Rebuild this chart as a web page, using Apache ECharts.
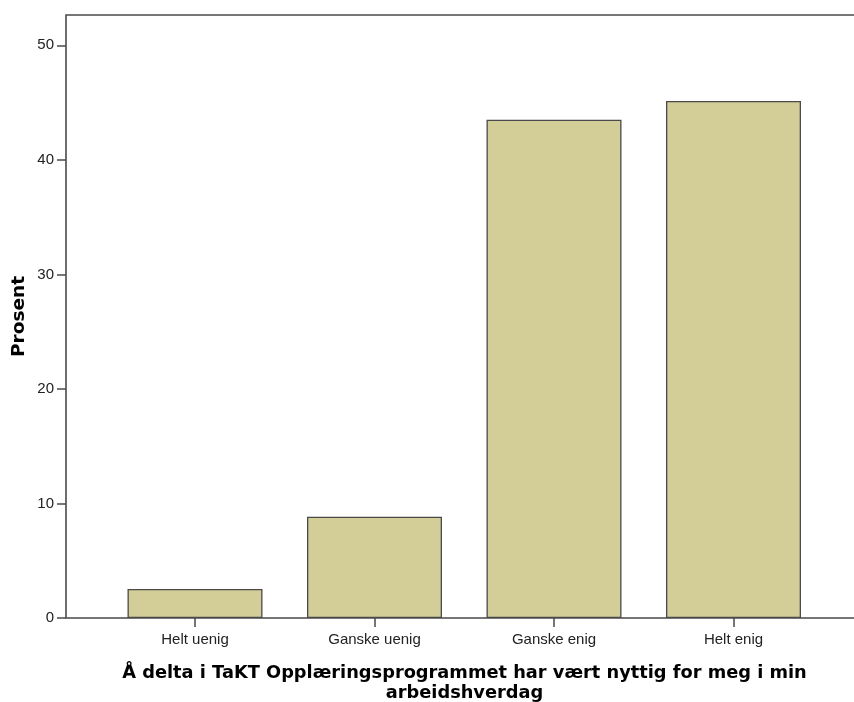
<!DOCTYPE html>
<html>
<head>
<meta charset="utf-8">
<script src="https://cdn.jsdelivr.net/npm/echarts@6/dist/echarts.min.js"></script>
<style>html,body{margin:0;padding:0;background:#fff}#c{width:854px;height:702px}</style>
</head>
<body>
<div id="c"></div>
<script>
const categories = ['Helt uenig', 'Ganske uenig', 'Ganske enig', 'Helt enig'];
const values = [2.54, 8.85, 43.5, 45.15];
const xTitle = 'Å delta i TaKT Opplæringsprogrammet har vært nyttig for meg i min\narbeidshverdag';
const yTitle = 'Prosent';

const chart = echarts.init(document.getElementById('c'));
// frame covers 0..52.65; tick/bar grids cover 0..50
const frameTop = 15, frameBottom = 84, frameH = 702 - frameTop - frameBottom;
const frameMax = 52.65, axisMax = 50;
const innerTop = frameTop + frameH * (frameMax - axisMax) / frameMax;
chart.setOption({
  animation: false,
  backgroundColor: '#fff',
  grid: [
    {left: 66, top: frameTop, width: 797, bottom: frameBottom, show: true, borderColor: '#4a4a4a', borderWidth: 1.6, backgroundColor: 'transparent', outerBoundsMode: 'none', containLabel: false},
    {left: 105.25, top: innerTop, width: 718, bottom: frameBottom, outerBoundsMode: 'none', containLabel: false},
    {left: 66, top: innerTop, width: 797, bottom: frameBottom, outerBoundsMode: 'none', containLabel: false}
  ],
  xAxis: [
    {gridIndex: 0, type: 'value', min: 0, max: 1, axisLine: {show: false}, axisTick: {show: false}, axisLabel: {show: false}, splitLine: {show: false},
     name: xTitle, nameLocation: 'middle', nameGap: 45,
     nameTextStyle: {fontFamily: 'DejaVu Sans', fontWeight: 'bold', fontSize: 17.8, color: '#000', lineHeight: 20, align: 'center'}},
    {gridIndex: 1, type: 'category', data: categories, boundaryGap: true,
     axisLine: {show: false}, axisTick: {show: true, alignWithLabel: true, length: 9, lineStyle: {color: '#4a4a4a', width: 1.5}},
     axisLabel: {margin: 14, fontFamily: 'Liberation Sans', fontSize: 15, color: '#222'}},
    {gridIndex: 2, type: 'value', min: 0, max: 1, show: false}
  ],
  yAxis: [
    {gridIndex: 0, type: 'value', min: 0, max: frameMax,
     axisLine: {show: false}, axisTick: {show: false}, axisLabel: {show: false}, splitLine: {show: false},
     name: yTitle, nameLocation: 'middle', nameGap: 37,
     nameTextStyle: {fontFamily: 'DejaVu Sans', fontWeight: 'bold', fontSize: 18.5, color: '#000'}},
    {gridIndex: 1, type: 'value', min: 0, max: axisMax, show: false},
    {gridIndex: 2, type: 'value', min: 0, max: axisMax, interval: 10,
     axisLine: {show: false}, axisTick: {show: true, length: 9, lineStyle: {color: '#4a4a4a', width: 1.5}},
     axisLabel: {margin: 12, fontFamily: 'Liberation Sans', fontSize: 15, color: '#222'},
     splitLine: {show: false}}
  ],
  series: [{
    type: 'bar', xAxisIndex: 1, yAxisIndex: 1, data: values, barWidth: '75.2%',
    itemStyle: {color: '#D3CE98', borderColor: '#4a4a4a', borderWidth: 1.3}
  }]
});
</script>
</body>
</html>
